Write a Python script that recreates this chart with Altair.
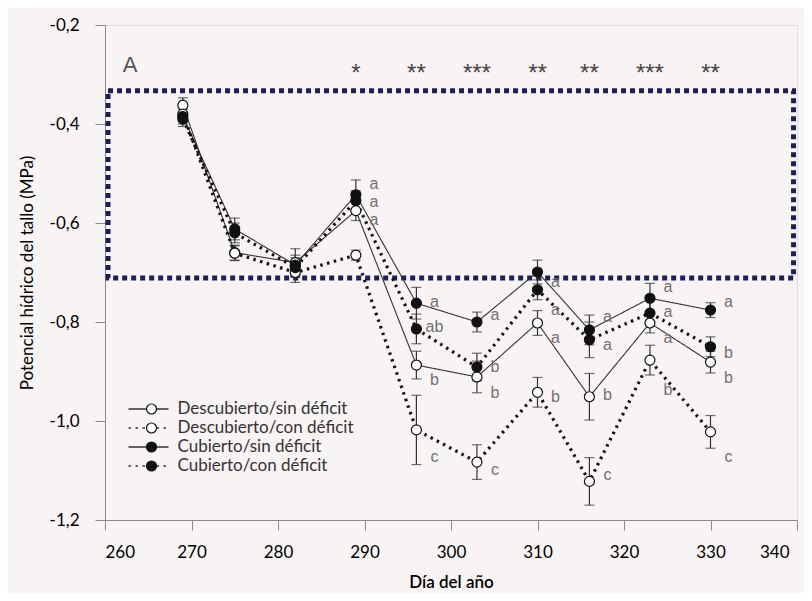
import altair as alt
import pandas as pd

# ---------------- data ----------------
days = [269, 275, 282, 289, 296, 303, 310, 316, 323, 330]
series = ["Descubierto/sin déficit", "Descubierto/con déficit",
          "Cubierto/sin déficit", "Cubierto/con déficit"]

desc_sin = [-0.362, -0.660, -0.680, -0.575, -0.887, -0.911, -0.802, -0.951, -0.802, -0.881]
desc_con = [-0.380, -0.661, -0.700, -0.665, -1.018, -1.083, -0.942, -1.122, -0.877, -1.022]
cub_sin = [-0.385, -0.612, -0.685, -0.543, -0.762, -0.800, -0.699, -0.816, -0.752, -0.776]
cub_con = [-0.390, -0.620, -0.690, -0.555, -0.814, -0.891, -0.735, -0.836, -0.782, -0.850]

err_desc_sin = [0.015, 0.015, 0.028, 0.020, 0.028, 0.032, 0.025, 0.047, 0.020, 0.022]
err_desc_con = [0.015, 0.015, 0.020, 0.010, 0.070, 0.035, 0.030, 0.048, 0.030, 0.033]
err_cub_sin = [0.015, 0.022, 0.020, 0.030, 0.032, 0.020, 0.024, 0.030, 0.030, 0.015]
err_cub_con = [0.015, 0.020, 0.020, 0.020, 0.030, 0.028, 0.020, 0.036, 0.025, 0.020]

let_desc_sin = ["", "", "", "a", "b", "b", "a", "b", "a", "b"]
let_desc_con = ["", "", "", "", "c", "c", "b", "c", "b", "c"]
let_cub_sin = ["", "", "", "a", "a", "a", "a", "a", "a", "a"]
let_cub_con = ["", "", "", "a", "ab", "b", "a", "a", "a", "b"]

laby_desc_sin = [None, None, None, -0.594, -0.917, -0.943, -0.832, -0.947, -0.832, -0.913]
laby_desc_con = [None, None, None, None, -1.073, -1.099, -0.952, -1.109, -0.937, -1.073]
laby_cub_sin = [None, None, None, -0.522, -0.760, -0.786, -0.719, -0.790, -0.729, -0.760]
laby_cub_con = [None, None, None, -0.558, -0.810, -0.891, -0.776, -0.846, -0.780, -0.863]

star_days = [289, 296, 303, 310, 316, 323, 330]
star_text = ["*", "**", "***", "**", "**", "***", "**"]
star_level = -0.289

panel_text = ["A"]
panel_x = [262.9]
panel_y = [-0.281]

box_x0 = [260.35]
box_x1 = [339.6]
box_y0 = [-0.333]
box_y1 = [-0.711]

# ---------------- tables ----------------
rows = []
for name, vals, errs, lets, laby in zip(
        series,
        [desc_sin, desc_con, cub_sin, cub_con],
        [err_desc_sin, err_desc_con, err_cub_sin, err_cub_con],
        [let_desc_sin, let_desc_con, let_cub_sin, let_cub_con],
        [laby_desc_sin, laby_desc_con, laby_cub_sin, laby_cub_con]):
    for d, v, e, l, ly in zip(days, vals, errs, lets, laby):
        rows.append(dict(dia=d, pot=v, lo=v - e, hi=v + e, trat=name,
                         letra=l, ly=ly, sin=("sin" in name)))
df = pd.DataFrame(rows)
df_let = df[df["letra"] != ""].copy()
df_star = pd.DataFrame(dict(dia=star_days, txt=star_text, y=[star_level] * len(star_days)))
df_panel = pd.DataFrame(dict(dia=panel_x, txt=panel_text, y=panel_y))
df_box = pd.DataFrame(dict(x0=box_x0, x1=box_x1, y0=box_y0, y1=box_y1))

# ---------------- scales / axes ----------------
xs = alt.Scale(domain=[260, 340], nice=False, zero=False)
ys = alt.Scale(domain=[-1.2, -0.2], nice=False, zero=False)

xaxis = alt.Axis(values=list(range(260, 341, 10)), format="d", title="Día del año",
                 titleFontWeight=600, titleFontSize=17, titlePadding=14,
                 labelFontSize=17, labelPadding=14, tickSize=10, grid=False,
                 labelOffset={"condition": {"test": "datum.value == 340", "value": -8}, "value": 0})
yaxis = alt.Axis(values=[-1.2, -1.0, -0.8, -0.6, -0.4, -0.2],
                 labelExpr="replace(replace(format(datum.value, '.1f'), '.', ','), '\u2212', '-')",
                 title="Potencial hídrico del tallo (MPa)", titleFontWeight="normal",
                 titleFontSize=17, titlePadding=13, labelFontSize=17, labelPadding=16,
                 tickSize=10, grid=False)

X = alt.X("dia:Q", scale=xs, axis=xaxis)
Y = alt.Y("pot:Q", scale=ys, axis=yaxis)

dash_legend = alt.Legend(orient="none", legendX=22.5, legendY=374.5, title=None,
                         direction="vertical", symbolType="stroke", symbolSize=1600,
                         symbolStrokeWidth=1.3, symbolStrokeColor="#333",
                         labelFontSize=17, labelColor="#333", labelFont="Lato",
                         labelLimit=400, labelOffset=8, clipHeight=19, rowPadding=0,
                         padding=0, zindex=1)
dash_scale = alt.Scale(domain=series, range=[[1, 0], [2.5, 4.5], [1, 0], [2.5, 4.5]])

circle_legend = alt.Legend(orient="none", legendX=38, legendY=374.5, title=None,
                           direction="vertical", symbolType="circle", symbolSize=100,
                           symbolStrokeColor="#111", symbolStrokeWidth=1.2,
                           labelExpr="''", labelFontSize=17, clipHeight=19,
                           rowPadding=0, padding=0, zindex=2)

# ---------------- layers ----------------
box = alt.Chart(df_box).mark_rect(fill="transparent", stroke="#1e1e5e", strokeWidth=5,
                                  strokeDash=[5, 4]).encode(
    x=alt.X("x0:Q", scale=xs, axis=xaxis), x2="x1:Q",
    y=alt.Y("y0:Q", scale=ys, axis=yaxis), y2="y1:Q")

solid = alt.Chart(df).transform_filter("datum.sin").mark_line(
    color="#333", strokeWidth=1.1).encode(
    x=X, y=Y, strokeDash=alt.StrokeDash("trat:N", scale=dash_scale, legend=dash_legend))

dotted = alt.Chart(df).transform_filter("!datum.sin").mark_line(
    color="#111", strokeWidth=3.2).encode(
    x=X, y=Y, strokeDash=alt.StrokeDash("trat:N", scale=dash_scale, legend=dash_legend))

rules = alt.Chart(df).mark_rule(color="#333", strokeWidth=1.2).encode(
    x=X, y=alt.Y("lo:Q", scale=ys, axis=yaxis), y2="hi:Q")
cap_lo = alt.Chart(df).mark_tick(orient="horizontal", size=10, thickness=1.2, color="#333").encode(
    x=X, y=alt.Y("lo:Q", scale=ys, axis=yaxis))
cap_hi = alt.Chart(df).mark_tick(orient="horizontal", size=10, thickness=1.2, color="#333").encode(
    x=X, y=alt.Y("hi:Q", scale=ys, axis=yaxis))

points = alt.Chart(df).mark_point(shape="circle", filled=True, size=100, stroke="#111",
                                  strokeWidth=1.2, opacity=1).encode(
    x=X, y=Y,
    fill=alt.Fill("trat:N", sort=series,
                  scale=alt.Scale(range=["#ffffff", "#ffffff", "#111111", "#111111"]),
                  legend=circle_legend))

letters = alt.Chart(df_let).mark_text(font="Liberation Sans", fontSize=16, color="#707070",
                                      dx=18, align="center", baseline="middle").encode(
    x=X, y=alt.Y("ly:Q", scale=ys, axis=yaxis), text="letra:N")

stars = alt.Chart(df_star).mark_text(font="Liberation Sans", fontSize=24, color="#444",
                                     align="center", baseline="alphabetic", dy=12).encode(
    x=X, y=alt.Y("y:Q", scale=ys, axis=yaxis), text="txt:N")

panel = alt.Chart(df_panel).mark_text(font="Liberation Sans", fontSize=22, color="#555",
                                      align="center", baseline="middle").encode(
    x=X, y=alt.Y("y:Q", scale=ys, axis=yaxis), text="txt:N")

chart = alt.layer(box, solid, dotted, rules, cap_lo, cap_hi, points, letters, stars, panel).properties(
    width=692, height=495,
    autosize=alt.AutoSizeParams(type="none"),
    padding={"left": 97, "top": 17, "right": 7, "bottom": 73},
    background="#f8f4f3",
).configure_view(
    stroke="#555", strokeWidth=1, fill="#f8f4f3"
).configure_axis(
    domainColor="#666", tickColor="#666", labelColor="#333", titleColor="#222",
    labelFont="Lato", titleFont="Lato", domainWidth=1.2, tickWidth=1.2
).configure(font="Lato")

chart.save("out.html", embed_options={"renderer": "svg", "actions": False})
